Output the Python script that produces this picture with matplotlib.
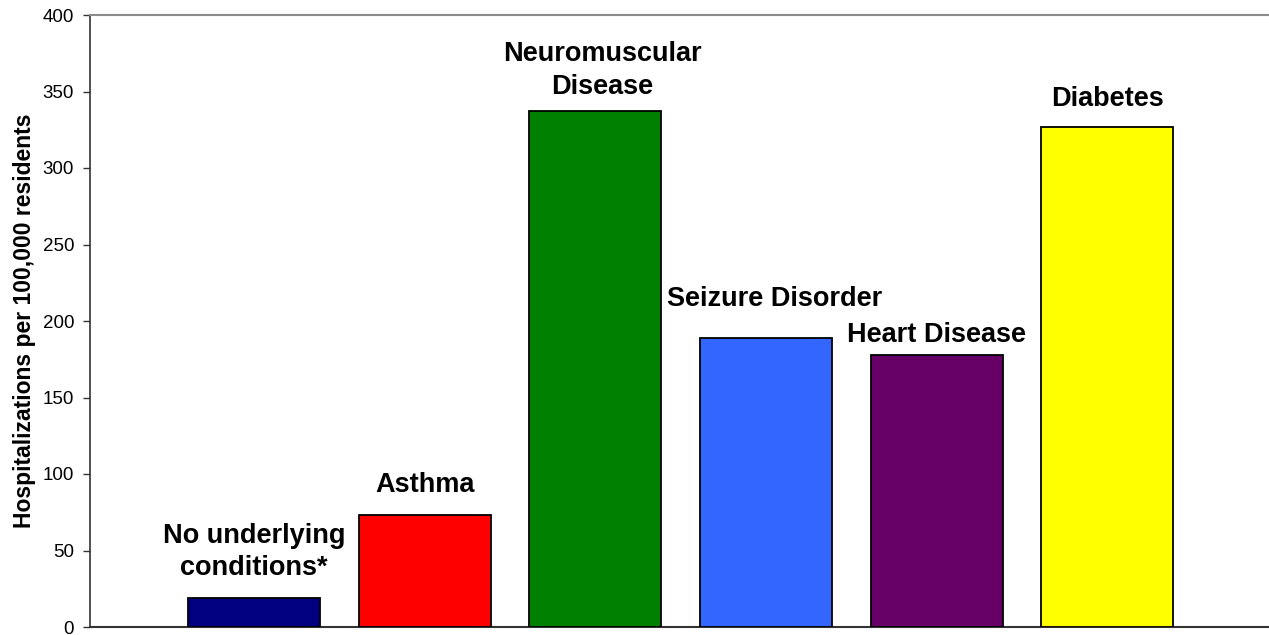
import matplotlib
matplotlib.use("Agg")
import matplotlib.pyplot as plt

categories = ["No underlying\nconditions*", "Asthma", "Neuromuscular\nDisease",
              "Seizure Disorder", "Heart Disease", "Diabetes"]
values = [19, 73, 337, 189, 178, 327]
colors = ["#000080", "#FF0000", "#008000", "#3366FF", "#660066", "#FFFF00"]
yticks = [0, 50, 100, 150, 200, 250, 300, 350, 400]
ylabel = "Hospitalizations per 100,000 residents"

# label offsets (points above bar top) and horizontal nudges (points)
label_dy = [12, 12.6, 8.3, 18.4, 4.5, 10.5]
label_dx = [0, 0, 5, 6, 0, 0]

plt.rcParams['font.family'] = ['Liberation Sans', 'DejaVu Sans']

fig = plt.figure(figsize=(12.69, 6.35), dpi=100)
ax = fig.add_axes([90/1269, 8/635, 1181/1269, 612/635])

x = list(range(len(values)))
ax.bar(x, values, width=0.774, color=colors, edgecolor="black", linewidth=1.3, zorder=3)

for xi, v, lab, dy, dx in zip(x, values, categories, label_dy, label_dx):
    ax.annotate(lab, (xi, v), xytext=(dx, dy), textcoords="offset points",
                ha="center", va="bottom", fontsize=19.5, fontweight="bold",
                linespacing=1.32)

ax.set_xlim(-0.961, 5.96)
ax.set_ylim(0, 400)
ax.set_yticks(yticks)
ax.set_yticklabels([str(t) for t in yticks], fontsize=13.5)
ax.set_xticks([])
ax.tick_params(axis="y", length=5, width=1, color="#333333", pad=6.5)
ax.set_ylabel(ylabel, fontsize=16.5, fontweight="bold", labelpad=5)

ax.spines["left"].set_color("#333333")
ax.spines["bottom"].set_color("#333333")
ax.spines["left"].set_linewidth(1.2)
ax.spines["bottom"].set_linewidth(1.5)
ax.spines["top"].set_color("#8c8c8c")
ax.spines["top"].set_linewidth(1.5)
ax.spines["right"].set_visible(False)
ax.spines["bottom"].set_clip_on(False)

fig.savefig("out.png", dpi=100)
